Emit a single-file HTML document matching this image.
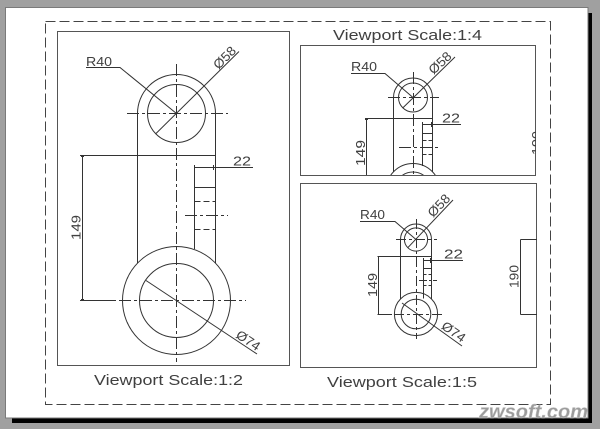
<!DOCTYPE html>
<html><head><meta charset="utf-8"><style>
html,body{margin:0;padding:0;background:#a0a0a0;}
svg{display:block;}
text{font-family:"Liberation Sans",sans-serif;fill:#404040;}
</style></head><body>
<svg width="600" height="429" viewBox="0 0 600 429" xmlns="http://www.w3.org/2000/svg">
<defs>
<clipPath id="cT"><rect x="301" y="46" width="235" height="129"/></clipPath>
<clipPath id="cB"><rect x="301" y="184" width="236" height="184"/></clipPath>
<clipPath id="cL"><rect x="58" y="32" width="232" height="334"/></clipPath>
</defs>
<rect x="0" y="0" width="600" height="429" fill="#a0a0a0"/>
<rect x="588" y="13" width="4" height="410" fill="#000"/>
<rect x="12" y="418" width="580" height="5" fill="#000"/>
<rect x="5.5" y="7.5" width="582.5" height="410.5" fill="#fff" stroke="#7a7a7a" stroke-width="1"/>

<rect x="45.5" y="21.5" width="505" height="383" fill="none" stroke="#444" stroke-dasharray="10 4" shape-rendering="crispEdges"/>

<g fill="none" stroke="#555" shape-rendering="crispEdges">
<rect x="57.5" y="31.5" width="232" height="334"/>
<rect x="300.5" y="45.5" width="235" height="130"/>
<rect x="300.5" y="183.5" width="236" height="184"/>
</g>

<!-- LEFT VIEW 1:2 -->
<g clip-path="url(#cL)" fill="none" stroke="#333" stroke-width="1">
<path d="M137.5,113.5 A39,39 0 0 1 215.5,113.5"/>
<circle cx="176.5" cy="113.5" r="29"/>
<circle cx="176.5" cy="300.5" r="54"/>
<circle cx="176.5" cy="300.5" r="37"/>
<g shape-rendering="crispEdges">
<line x1="137.5" y1="113.5" x2="137.5" y2="263"/>
<line x1="215.5" y1="113.5" x2="215.5" y2="263"/>
<line x1="176.5" y1="64" x2="176.5" y2="362" stroke-dasharray="12 3 3 3"/>
<line x1="127" y1="113.5" x2="228" y2="113.5" stroke-dasharray="12 3 3 3"/>
<line x1="80" y1="155.5" x2="215.5" y2="155.5"/>
<line x1="82.5" y1="155.5" x2="82.5" y2="300.5"/>
<line x1="80" y1="300.5" x2="116" y2="300.5"/>
<line x1="119" y1="300.5" x2="246" y2="300.5" stroke-dasharray="12 3 3 3"/>
<line x1="194.5" y1="167.5" x2="194.5" y2="249"/>
<line x1="194.5" y1="167.5" x2="253" y2="167.5"/>
<line x1="194.5" y1="187.5" x2="215.5" y2="187.5"/>
<line x1="194.5" y1="201.5" x2="215.5" y2="201.5" stroke-dasharray="6 3"/>
<line x1="185" y1="215.5" x2="228" y2="215.5" stroke-dasharray="12 3 3 3"/>
<line x1="194.5" y1="229.5" x2="215.5" y2="229.5" stroke-dasharray="6 3"/>
<line x1="194.5" y1="165" x2="194.5" y2="170"/>
<line x1="213.5" y1="165" x2="213.5" y2="170"/>
<line x1="81" y1="156.5" x2="84" y2="156.5"/>
<line x1="81" y1="299.5" x2="84" y2="299.5"/>
</g>
<path d="M86,67.5 H120 L176.5,113.5"/>
<line x1="155.5" y1="134" x2="239" y2="51.5"/>
<line x1="146" y1="280.5" x2="257" y2="354"/>
</g>
<text x="86" y="66" font-size="13" textLength="26" lengthAdjust="spacingAndGlyphs">R40</text>
<text x="233" y="165.5" font-size="13" textLength="18" lengthAdjust="spacingAndGlyphs">22</text>
<text transform="translate(80.5,227.5) rotate(-90)" text-anchor="middle" font-size="13" textLength="25" lengthAdjust="spacingAndGlyphs">149</text>
<text transform="translate(218.5,70) rotate(-45)" font-size="13" textLength="26" lengthAdjust="spacingAndGlyphs">Ø58</text>
<text transform="translate(235,337) rotate(33.7)" font-size="13" textLength="26" lengthAdjust="spacingAndGlyphs">Ø74</text>
<text x="94" y="385" font-size="14.5" textLength="149" lengthAdjust="spacingAndGlyphs">Viewport Scale:1:2</text>

<!-- TOP RIGHT VIEW 1:4 -->
<g clip-path="url(#cT)">
<g fill="none" stroke="#333" stroke-width="1">
<path d="M393.5,97.5 A19.5,19.5 0 0 1 432.5,97.5"/>
<circle cx="413" cy="97.5" r="14.5"/>
<circle cx="413" cy="190.5" r="27"/>
<circle cx="413" cy="190.5" r="18.5"/>
<g shape-rendering="crispEdges">
<line x1="393.5" y1="97.5" x2="393.5" y2="172"/>
<line x1="432.5" y1="97.5" x2="432.5" y2="172"/>
<line x1="413.5" y1="72" x2="413.5" y2="200" stroke-dasharray="12 3 3 3"/>
<line x1="388" y1="97.5" x2="439" y2="97.5" stroke-dasharray="12 3 3 3"/>
<line x1="365" y1="118.5" x2="432.5" y2="118.5"/>
<line x1="366.5" y1="118.5" x2="366.5" y2="190"/>
<line x1="422.5" y1="124.5" x2="422.5" y2="166"/>
<line x1="422.5" y1="124.5" x2="461" y2="124.5"/>
<line x1="422.5" y1="133.5" x2="432.5" y2="133.5"/>
<line x1="422.5" y1="140.5" x2="432.5" y2="140.5" stroke-dasharray="4 2"/>
<line x1="399" y1="147.5" x2="440" y2="147.5" stroke-dasharray="12 3 3 3"/>
<line x1="422.5" y1="154.5" x2="432.5" y2="154.5" stroke-dasharray="4 2"/>
<line x1="422.5" y1="122" x2="422.5" y2="127"/>
<line x1="431.5" y1="122" x2="431.5" y2="127"/>
<line x1="365" y1="119.5" x2="368" y2="119.5"/>
</g>
<path d="M351,73.5 H385 L413,97.5"/>
<line x1="402.7" y1="108" x2="455" y2="57"/>
</g>
<text x="351" y="71" font-size="13" textLength="26" lengthAdjust="spacingAndGlyphs">R40</text>
<text x="442" y="122.5" font-size="13" textLength="18" lengthAdjust="spacingAndGlyphs">22</text>
<text transform="translate(365,153) rotate(-90)" text-anchor="middle" font-size="13" textLength="26" lengthAdjust="spacingAndGlyphs">149</text>
<text transform="translate(433.5,75) rotate(-43)" font-size="13" textLength="26" lengthAdjust="spacingAndGlyphs">Ø58</text>
<text transform="translate(541,143) rotate(-90)" text-anchor="middle" font-size="13" textLength="24" lengthAdjust="spacingAndGlyphs">190</text>
</g>
<text x="333" y="40" font-size="14.5" textLength="149" lengthAdjust="spacingAndGlyphs">Viewport Scale:1:4</text>

<!-- BOTTOM RIGHT VIEW 1:5 -->
<g clip-path="url(#cB)">
<g fill="none" stroke="#333" stroke-width="1">
<path d="M400.5,239.5 A15.5,15.5 0 0 1 431.5,239.5"/>
<circle cx="416" cy="239.5" r="11.6"/>
<circle cx="416" cy="314" r="21.6"/>
<circle cx="416" cy="314" r="14.8"/>
<g shape-rendering="crispEdges">
<line x1="400.5" y1="239.5" x2="400.5" y2="299"/>
<line x1="431.5" y1="239.5" x2="431.5" y2="299"/>
<line x1="416.5" y1="219" x2="416.5" y2="339" stroke-dasharray="10 3 3 3"/>
<line x1="396" y1="239.5" x2="437" y2="239.5" stroke-dasharray="10 3 3 3"/>
<line x1="377.5" y1="256.5" x2="431.5" y2="256.5"/>
<line x1="378.5" y1="256.5" x2="378.5" y2="314.5"/>
<line x1="377.5" y1="314.5" x2="392" y2="314.5"/>
<line x1="394" y1="314.5" x2="444" y2="314.5" stroke-dasharray="10 3 3 3"/>
<line x1="423.5" y1="260.5" x2="423.5" y2="298.5"/>
<line x1="423.5" y1="260.5" x2="463" y2="260.5"/>
<line x1="423.5" y1="268.5" x2="431.5" y2="268.5"/>
<line x1="423.5" y1="274.5" x2="431.5" y2="274.5" stroke-dasharray="3 2"/>
<line x1="419" y1="280.5" x2="437" y2="280.5" stroke-dasharray="8 2 2 2"/>
<line x1="423.5" y1="285.5" x2="431.5" y2="285.5" stroke-dasharray="3 2"/>
<line x1="423.5" y1="258" x2="423.5" y2="263"/>
<line x1="430.5" y1="258" x2="430.5" y2="263"/>
<line x1="520.5" y1="239.5" x2="520.5" y2="314.5"/>
<line x1="520.5" y1="239.5" x2="537" y2="239.5"/>
<line x1="520.5" y1="314.5" x2="537" y2="314.5"/>
</g>
<path d="M360,221.5 H395 L416,239.5"/>
<line x1="407.8" y1="247.7" x2="453" y2="200"/>
<line x1="402" y1="303" x2="462" y2="346"/>
</g>
</g>
<text x="360" y="219" font-size="12.5" textLength="25" lengthAdjust="spacingAndGlyphs">R40</text>
<text x="444" y="258.5" font-size="12.5" textLength="19" lengthAdjust="spacingAndGlyphs">22</text>
<text transform="translate(377,285) rotate(-90)" text-anchor="middle" font-size="13" textLength="24" lengthAdjust="spacingAndGlyphs">149</text>
<text transform="translate(518.5,276.5) rotate(-90)" text-anchor="middle" font-size="13" textLength="23" lengthAdjust="spacingAndGlyphs">190</text>
<text transform="translate(433,218) rotate(-46)" font-size="13" textLength="26" lengthAdjust="spacingAndGlyphs">Ø58</text>
<text transform="translate(440.5,328) rotate(35)" font-size="13" textLength="26" lengthAdjust="spacingAndGlyphs">Ø74</text>
<text x="327" y="387" font-size="14.5" textLength="150" lengthAdjust="spacingAndGlyphs">Viewport Scale:1:5</text>

<!-- watermark -->
<text x="479" y="418" font-size="19" font-weight="bold" font-style="italic" textLength="109" lengthAdjust="spacingAndGlyphs" style="fill:#9c9c9c;stroke:#cfcfcf;stroke-width:0.4">zwsoft.com</text>
</svg>
</body></html>
